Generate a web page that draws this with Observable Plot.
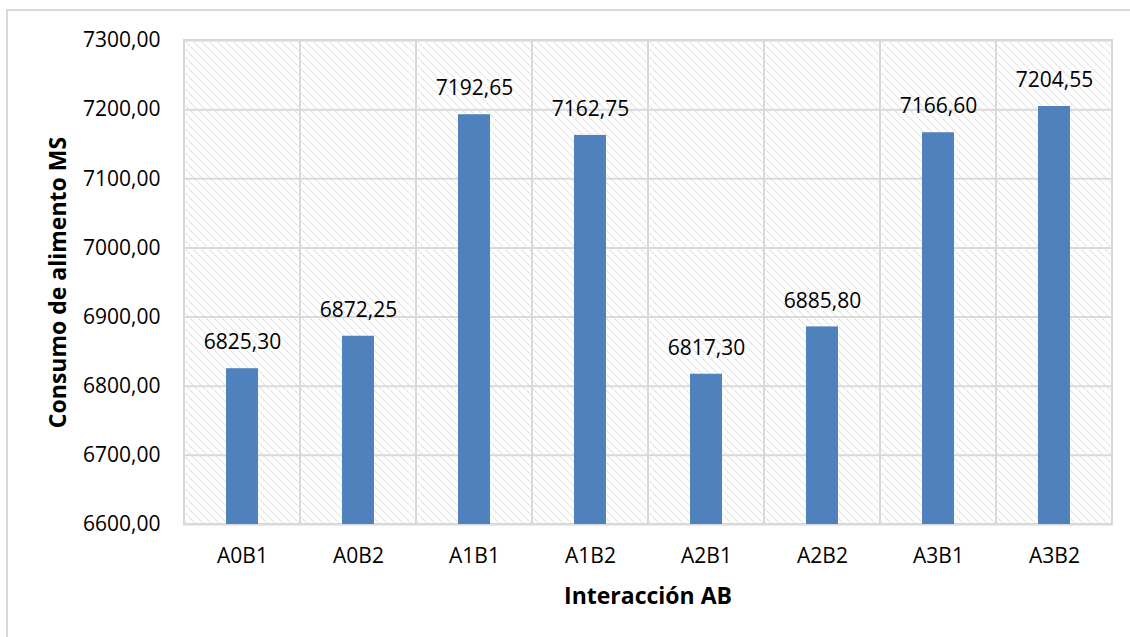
<!DOCTYPE html>
<html><head><meta charset="utf-8">
<script src="https://cdn.jsdelivr.net/npm/d3@7"></script>
<script src="https://cdn.jsdelivr.net/npm/@observablehq/plot@0.6"></script>
<style>
html,body{margin:0;padding:0;background:#fff;}
#wrap{position:relative;width:1130px;height:637px;overflow:hidden;}
#border{position:absolute;left:6px;top:9px;width:2000px;height:2000px;border-left:2px solid #d9d9d9;border-top:2px solid #d9d9d9;}
#chart{position:absolute;left:0;top:0;}
</style>
</head><body>
<div id="wrap"><div id="border"></div><div id="chart"></div></div>
<script>
const categories = ["A0B1","A0B2","A1B1","A1B2","A2B1","A2B2","A3B1","A3B2"];
const values = [6825.30, 6872.25, 7192.65, 7162.75, 6817.30, 6885.80, 7166.60, 7204.55];
const yTicks = [6600, 6700, 6800, 6900, 7000, 7100, 7200, 7300];
const xTitle = "Interacción AB";
const yTitle = "Consumo de alimento MS";

const fmt = d3.format(".2f");
const fmtEs = v => fmt(v).replace(".", ",");
const data = categories.map((c, i) => ({cat: c, value: values[i]}));
const yMin = yTicks[0], yMax = yTicks[yTicks.length - 1];

const svg = Plot.plot({
  width: 1130, height: 637,
  marginLeft: 183, marginRight: 18, marginTop: 40, marginBottom: 113,
  style: {fontFamily: "'Open Sans', sans-serif", fontSize: "21px", color: "#000", background: "transparent"},
  x: {domain: categories, padding: 0},
  y: {domain: [yMin, yMax]},
  marks: [
    Plot.barY(data, {x: "cat", y1: yMin, y2: yMax, fill: "url(#hatch)", stroke: "#d9d9d9", strokeWidth: 2}),
    Plot.ruleY(yTicks, {stroke: "#d9d9d9", strokeWidth: 2}),
    Plot.barY(data, {x: "cat", y1: yMin, y2: "value", fill: "#4f81bd", insetLeft: 42, insetRight: 42}),
    Plot.text(data, {x: "cat", y: "value", text: d => fmtEs(d.value), dy: -26, lineAnchor: "middle", fontSize: 21, fill: "#000"}),
    Plot.axisX({tickSize: 0, tickPadding: 24, label: null, fontSize: 21}),
    Plot.axisY({ticks: yTicks, tickFormat: fmtEs, tickSize: 0, tickPadding: 23, label: null, fontSize: 21}),
    Plot.text([xTitle], {frameAnchor: "bottom", dy: 72, lineAnchor: "middle", fontSize: 23, fontWeight: "bold", fill: "#000"}),
    Plot.text([yTitle], {frameAnchor: "left", dx: -125, rotate: -90, textAnchor: "middle", lineAnchor: "middle", fontSize: 23, fontWeight: "bold", fill: "#000"})
  ]
});

d3.select(svg).insert("defs", ":first-child").html(
  '<pattern id="hatch" patternUnits="userSpaceOnUse" width="8" height="8">' +
  '<rect width="8" height="8" fill="#ffffff"/>' +
  '<path d="M-2,-2 L10,10 M-2,6 L2,10 M6,-2 L10,2" stroke="#dcdcdc" stroke-width="1.3" stroke-dasharray="1.5,1"/>' +
  '</pattern>'
);
document.getElementById("chart").appendChild(svg);
</script>
</body></html>
